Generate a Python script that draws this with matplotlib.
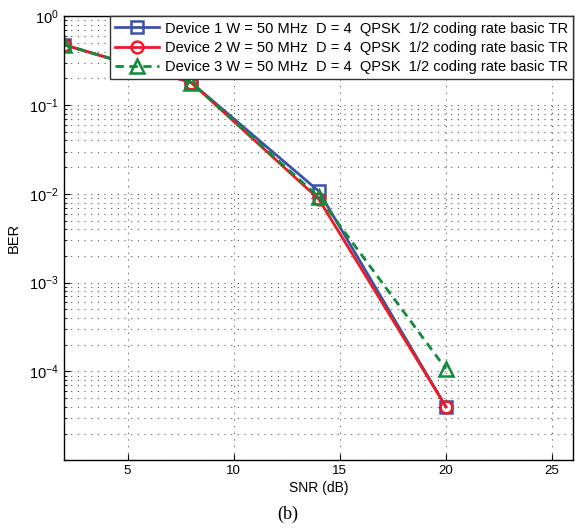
import matplotlib
matplotlib.use("Agg")
import math
import matplotlib.pyplot as plt
from matplotlib.ticker import LogLocator, NullFormatter, FuncFormatter

snr = [2, 8, 14, 20]
dev1 = [0.48, 0.18, 0.0108, 4.0e-5]
dev2 = [0.48, 0.18, 0.0088, 4.0e-5]
dev3 = [0.48, 0.18, 0.0093, 1.07e-4]
labels = ["Device 1 W = 50 MHz  D = 4  QPSK  1/2 coding rate basic TR",
          "Device 2 W = 50 MHz  D = 4  QPSK  1/2 coding rate basic TR",
          "Device 3 W = 50 MHz  D = 4  QPSK  1/2 coding rate basic TR"]
xticks = [5, 10, 15, 20, 25]

plt.rcParams['font.family'] = ['Liberation Sans', 'DejaVu Sans']
plt.rcParams['mathtext.fontset'] = 'custom'
plt.rcParams['mathtext.rm'] = 'Liberation Sans'
plt.rcParams['mathtext.it'] = 'Liberation Sans'
fig = plt.figure(figsize=(5.75, 5.29), dpi=100)
ax = fig.add_axes([0.111, 0.130, 0.886, 0.839])

ax.semilogy(snr, dev1, color='#3a54a4', lw=2.0, marker='s', ms=8, mfc='none', mew=1.8, label=labels[0])
ax.semilogy(snr, dev2, color='#ec1c24', lw=2.0, marker='o', ms=8.5, mfc='none', mew=1.8, label=labels[1])
ax.semilogy(snr, dev3, color='#138a3c', lw=2.0, ls=(0, (3, 2)), marker='^', ms=10, mfc='none', mew=1.8, label=labels[2])

ax.set_xlim(2, 26)
ax.set_ylim(1e-5, 1)
ax.set_xticks(xticks)
ax.yaxis.set_major_locator(LogLocator(base=10, numticks=10))
ax.yaxis.set_minor_locator(LogLocator(base=10, subs=range(2, 10), numticks=20))
ax.yaxis.set_minor_formatter(NullFormatter())

def yfmt(v, pos):
    e = int(round(math.log10(v)))
    if e <= -5:
        return ''
    return r'$\mathregular{10^{%d}}$' % e
ax.yaxis.set_major_formatter(FuncFormatter(yfmt))

ax.grid(True, which='major', ls=(0, (1, 5)), color='#555555', lw=0.8)
ax.grid(True, which='minor', axis='y', ls=(0, (1, 5)), color='#555555', lw=0.8)
ax.tick_params(direction='in', which='both', top=False, right=False)
ax.tick_params(axis='x', labelsize=9.5)
ax.tick_params(axis='y', labelsize=10.5)
ax.tick_params(which='major', length=4)
ax.tick_params(which='minor', length=2)
for s in ax.spines.values():
    s.set_linewidth(1.0)

ax.set_xlabel('SNR (dB)', fontsize=10, labelpad=3)
ax.set_ylabel('BER', fontsize=10.5, labelpad=6)

leg = ax.legend(loc='upper right', fontsize=10.5, handlelength=3.0, borderpad=0.35,
                labelspacing=0.35, handletextpad=0.4, borderaxespad=0.0,
                fancybox=False, framealpha=1, edgecolor='#333333')
leg.get_frame().set_linewidth(1.0)

fig.text(0.5, 0.027, '(b)', ha='center', va='center', fontsize=13, family='Liberation Serif')

fig.savefig('out.png', dpi=100)
